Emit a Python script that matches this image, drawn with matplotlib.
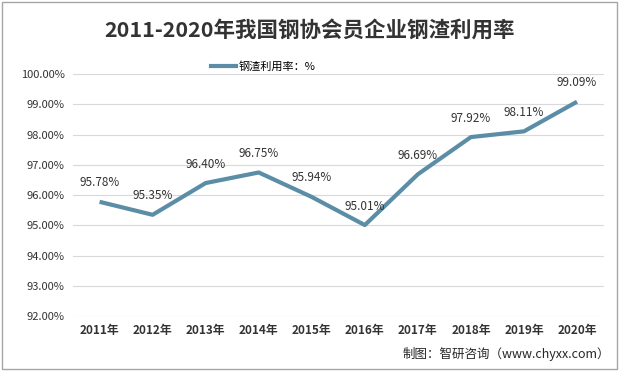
import matplotlib
matplotlib.use("Agg")
import matplotlib.pyplot as plt
from matplotlib.lines import Line2D
from matplotlib.patches import Rectangle
import numpy as np

plt.rcParams["font.family"] = ["Noto Sans CJK SC", "DejaVu Sans"]

years = ["2011年", "2012年", "2013年", "2014年", "2015年",
         "2016年", "2017年", "2018年", "2019年", "2020年"]
rates = [95.78, 95.35, 96.40, 96.75, 95.94, 95.01, 96.69, 97.92, 98.11, 99.09]
yticks = [92, 93, 94, 95, 96, 97, 98, 99, 100]

LINE_COLOR = "#5b8ea6"

fig = plt.figure(figsize=(6.19, 3.71), dpi=100)
ax = fig.add_axes([0.118, 0.148, 0.857, 0.652])

x = np.arange(len(years))
ax.plot(x, rates, color=LINE_COLOR, lw=3, solid_capstyle="butt", zorder=3)

for xi, v in zip(x, rates):
    ax.annotate(f"{v:.2f}%", (xi, v), xytext=(0, 9), textcoords="offset points",
                ha="center", va="bottom", fontsize=8.5, color="#333333")

ax.set_xlim(-0.5, len(years) - 0.5)
ax.set_ylim(92, 100)
ax.set_yticks(yticks)
ax.set_yticklabels([f"{t:.2f}%" for t in yticks], fontsize=8, color="#333333")
ax.set_xticks(x)
ax.set_xticklabels(years, fontsize=8.5, color="#333333", fontweight="bold")
ax.tick_params(length=0, pad=6)
ax.yaxis.grid(True, color="#d9d9d9", lw=0.8)
ax.set_axisbelow(True)
for s in ax.spines.values():
    s.set_visible(False)

fig.text(0.5, 0.915, "2011-2020年我国钢协会员企业钢渣利用率", ha="center",
         va="center", fontsize=15.5, fontweight="bold", color="#333333")

handle = Line2D([0], [0], color=LINE_COLOR, lw=3)
fig.legend([handle], ["钢渣利用率：%"], loc="center", bbox_to_anchor=(0.425, 0.82),
           frameon=False, fontsize=8, handlelength=2.3, handletextpad=0.2)

fig.text(0.985, 0.045, "制图：智研咨询（www.chyxx.com）", ha="right", va="center",
         fontsize=9, color="#262626")

fig.patches.append(Rectangle((0.003, 0.005), 0.994, 0.99, transform=fig.transFigure,
                             fill=False, edgecolor="#a6a6a6", lw=1))

fig.savefig("out.png", dpi=100)
